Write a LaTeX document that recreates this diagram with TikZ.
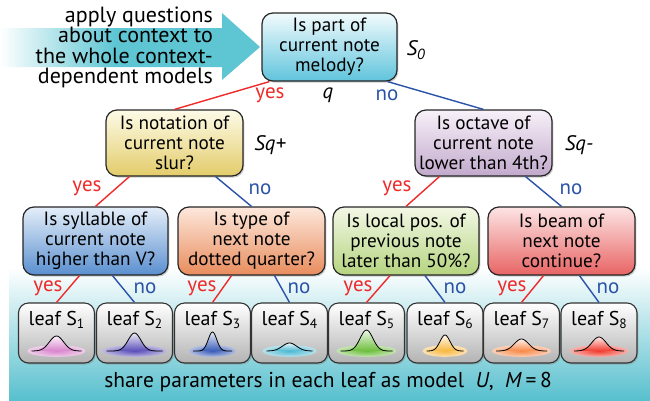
\documentclass[tikz,border=0pt]{standalone}
\usepackage{fontspec}
\setmainfont{PT Sans}
\usetikzlibrary{shadows,calc}
\definecolor{yesred}{HTML}{EE2A2A}
\definecolor{noblue}{HTML}{2A52A8}
\definecolor{arrowteal}{HTML}{5EC6D3}
\definecolor{bandteal}{HTML}{58C0CE}
\definecolor{lc1}{HTML}{D884CC}
\definecolor{lc2}{HTML}{5A4EB8}
\definecolor{lc3}{HTML}{3A5CB8}
\definecolor{lc4}{HTML}{4AB8D2}
\definecolor{lc5}{HTML}{6CBE3C}
\definecolor{lc6}{HTML}{F8B840}
\definecolor{lc7}{HTML}{F88848}
\definecolor{lc8}{HTML}{F03A2C}
\pgfdeclarehorizontalshading{arrowshade}{100bp}{color(0bp)=(white); color(25bp)=(white); color(47bp)=(arrowteal); color(100bp)=(arrowteal)}
\newcommand\boxfont{\fontsize{19.2}{20}\selectfont}
\newcommand\labfont{\fontsize{21}{21}\selectfont}
\newcommand\sidefont{\fontsize{22}{20.5}\selectfont}
\newcommand\subnum[1]{\raisebox{-0.35ex}{\fontsize{13.5}{13.5}\selectfont #1}}
\newcommand\leafbump[5]{%
  \shade[inner color=#2, outer color=#2!40] (#1,351) ellipse [x radius=#3, y radius=5.8];
  \shade[top color=#2!12, bottom color=#2] plot[domain={-(#3-4)}:{#3-4}, samples=41] ({#1+\x},{351-#5*exp(-((\x)/#4)^2)}) -- cycle;
  \draw[line width=0.8pt] plot[domain={-(#3-4)}:{#3-4}, samples=41] ({#1+\x},{351-#5*exp(-((\x)/#4)^2)});
}
\tikzset{
  qbox/.style={draw=black!85, line width=1.2pt, rounded corners=11pt, align=center, inner sep=0pt,
    font=\boxfont, drop shadow={opacity=0.4, shadow xshift=1.3pt, shadow yshift=-1.6pt}},
  leafbox/.style={draw=black!80, line width=1.1pt, rounded corners=10pt, minimum width=76pt,
    minimum height=60pt, inner sep=0pt, top color=white, bottom color=black!30,
    drop shadow={opacity=0.4, shadow xshift=1.3pt, shadow yshift=-1.6pt}},
  leaftext/.style={font=\fontsize{20}{20}\selectfont, inner sep=0pt},
  yesline/.style={draw=yesred, line width=1.4pt},
  noline/.style={draw=noblue, line width=1.4pt},
  yeslab/.style={text=yesred, font=\labfont, inner sep=0pt},
  nolab/.style={text=noblue, font=\labfont, inner sep=0pt},
  slab/.style={font=\labfont\itshape, inner sep=0pt},
}
\begin{document}
\begin{tikzpicture}[x=1pt,y=-1pt]
\useasboundingbox (0,0) rectangle (650,400);
% bottom band
\shade[top color=white, bottom color=bandteal] (9,268) rectangle (650,400);
% top arrow
\path[shading=arrowshade] (0,28) -- (222,28) -- (222,13) -- (260,47) -- (222,80) -- (222,67) -- (0,67) -- cycle;
\node[font=\sidefont, align=right, anchor=east, inner sep=0pt] (side) at (213,47.5)
  {apply questions\\about context to\\the whole context-\\dependent models};

% question nodes
\node[qbox, minimum width=135pt, minimum height=68pt, top color={rgb,255:red,242;green,251;blue,253}, bottom color={rgb,255:red,96;green,196;blue,220}] (root) at (329.5,47) {Is part of\\current note\\melody?};
\node[qbox, minimum width=137pt, minimum height=66pt, top color={rgb,255:red,253;green,251;blue,232}, bottom color={rgb,255:red,227;green,204;blue,106}] (l2l) at (174.5,143) {Is notation of\\current note\\slur?};
\node[qbox, minimum width=137pt, minimum height=66pt, top color={rgb,255:red,247;green,241;blue,249}, bottom color={rgb,255:red,194;green,169;blue,204}] (l2r) at (483.5,143) {Is octave of\\current note\\lower than 4th?};
\node[qbox, minimum width=145pt, minimum height=68pt, top color={rgb,255:red,228;green,238;blue,249}, bottom color={rgb,255:red,90;green,143;blue,207}] (l3a) at (95.5,241) {Is syllable of\\current note\\higher than V?};
\node[qbox, minimum width=147pt, minimum height=68pt, top color={rgb,255:red,253;green,232;blue,220}, bottom color={rgb,255:red,232;green,140;blue,92}] (l3b) at (251.5,241) {Is type of\\next note\\dotted quarter?};
\node[qbox, minimum width=146pt, minimum height=68pt, top color={rgb,255:red,243;green,248;blue,230}, bottom color={rgb,255:red,181;green,212;blue,127}] (l3c) at (406,241) {Is local pos. of\\previous note\\later than 50\%?};
\node[qbox, minimum width=147pt, minimum height=68pt, top color={rgb,255:red,253;green,228;blue,228}, bottom color={rgb,255:red,232;green,100;blue,100}] (l3d) at (561.5,241) {Is beam of\\next note\\continue?};

% leaves
\foreach \i/\x in {1/56.5,2/134.5,3/212.5,4/289.5,5/366.5,6/445,7/521.5,8/599}{
  \node[leafbox] (leaf\i) at (\x,333) {};
  \node[leaftext] (leaftext\i) at (\x,320) {leaf S\subnum{\i}};
}
\leafbump{56.5}{lc1}{29}{10}{15}
\leafbump{134.5}{lc2}{32}{9}{18}
\leafbump{212.5}{lc3}{23.5}{6}{19}
\leafbump{289.5}{lc4}{27}{10}{8}
\leafbump{366.5}{lc5}{30}{9}{21}
\leafbump{445}{lc6}{22.5}{7}{16}
\leafbump{521.5}{lc7}{29.5}{10}{12}
\leafbump{599}{lc8}{29}{10}{14}

% connectors
\draw[yesline] ($(root.south west)+(8,0)$) -- (l2l.north);
\draw[noline] ($(root.south east)+(-10,0)$) -- (l2r.north);
\draw[yesline] ($(l2l.south west)+(24,0)$) -- (l3a.north);
\draw[noline] ($(l2l.south east)+(-28,0)$) -- (l3b.north);
\draw[yesline] ($(l2r.south west)+(25,0)$) -- (l3c.north);
\draw[noline] ($(l2r.south east)+(-27,0)$) -- (l3d.north);
\draw[yesline] ($(l3a.south)+(-16,0)$) -- (leaf1.north);
\draw[noline] ($(l3a.south)+(17,0)$) -- (leaf2.north);
\draw[yesline] ($(l3b.south)+(-20,0)$) -- (leaf3.north);
\draw[noline] ($(l3b.south)+(23,0)$) -- (leaf4.north);
\draw[yesline] ($(l3c.south)+(-16,0)$) -- (leaf5.north);
\draw[noline] ($(l3c.south)+(19,0)$) -- (leaf6.north);
\draw[yesline] ($(l3d.south)+(-18,0)$) -- (leaf7.north);
\draw[noline] ($(l3d.south)+(18,0)$) -- (leaf8.north);

% labels
\node[yeslab] (y0) at (270,95) {yes};
\node[slab] (q) at (328,95) {q};
\node[nolab] (n0) at (387,95) {no};
\node[slab] (s0) at (416,50) {S\textsubscript{0}};
\node[slab] (sqp) at (270,145) {Sq+};
\node[slab] (sqm) at (579,145) {Sq-};
\node[yeslab] (y1) at (87,188) {yes};
\node[nolab] (n1) at (260,189) {no};
\node[yeslab] (y2) at (397,188) {yes};
\node[nolab] (n2) at (571,189) {no};
\node[yeslab] (y3) at (48,288) {yes};
\node[nolab] (n3) at (145,288) {no};
\node[yeslab] (y4) at (202,288) {yes};
\node[nolab] (n4) at (299,288) {no};
\node[yeslab] (y5) at (358,288) {yes};
\node[nolab] (n5) at (455,288) {no};
\node[yeslab] (y6) at (512,288) {yes};
\node[nolab] (n6) at (608,288) {no};

\node[font=\fontsize{21.5}{22}\selectfont, inner sep=0pt] (share) at (328,382)
  {share parameters in each leaf as model \ \textit{U},\ \ \textit{M}\,=\,8};
\end{tikzpicture}
\end{document}
